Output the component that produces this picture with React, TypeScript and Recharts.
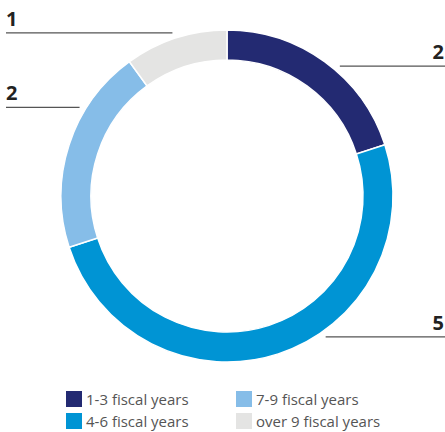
import React from 'react';
import { PieChart, Pie, Cell, Legend } from 'recharts';

const categories = ['1-3 fiscal years', '4-6 fiscal years', '7-9 fiscal years', 'over 9 fiscal years'];
const values = [2, 5, 2, 1];
const colors = ['#232A72', '#0094D4', '#86BDE8', '#E4E4E3'];
// leader-line angles (degrees, counter-clockwise from east) for each slice label
const leaderAngles = [49, -55, 149, 108.5];

const data = categories.map((name, i) => ({ name, value: values[i] }));

const W = 445;
const H = 432;
const RAD = Math.PI / 180;

const renderLabel = (props: any) => {
  const { cx, cy, outerRadius, index, value } = props;
  const a = leaderAngles[index];
  const r = outerRadius + 6;
  const x = cx + r * Math.cos(-a * RAD);
  const y = cy + r * Math.sin(-a * RAD);
  const right = Math.cos(-a * RAD) > 0;
  const x1 = right ? x : 6;
  const x2 = right ? W : x;
  return (
    <g key={`lbl-${index}`}>
      <line x1={x1} y1={y} x2={x2} y2={y} stroke="#555" strokeWidth={1.3} />
      <text
        x={right ? W - 1 : 6}
        y={y - 7}
        textAnchor={right ? 'end' : 'start'}
        fontFamily="'Open Sans', sans-serif"
        fontWeight={700}
        fontSize={20}
        fill="#222"
      >
        {value}
      </text>
    </g>
  );
};

const renderLegend = (props: any) => {
  const { payload } = props;
  return (
    <div
      style={{
        display: 'grid',
        gridTemplateRows: 'repeat(2, 22px)',
        gridAutoFlow: 'column',
        gridTemplateColumns: '170px 190px',
        fontFamily: "'Open Sans', sans-serif",
        fontSize: 15,
        color: '#555',
      }}
    >
      {payload.map((p: any, i: number) => (
        <div key={i} style={{ display: 'flex', alignItems: 'center', height: 22 }}>
          <span style={{ width: 16, height: 16, background: p.color, display: 'inline-block', marginRight: 4 }} />
          <span style={{ lineHeight: '16px' }}>{p.value}</span>
        </div>
      ))}
    </div>
  );
};

export default function App() {
  return (
    <div style={{ position: 'absolute', left: 0, top: 0, width: W, height: H, background: '#fff' }}>
      <PieChart width={W} height={H} margin={{ top: 0, right: 0, bottom: 0, left: 0 }}>
        <Pie
          data={data}
          dataKey="value"
          nameKey="name"
          cx={227}
          cy={196}
          innerRadius={136}
          outerRadius={166}
          startAngle={90}
          endAngle={-270}
          stroke="#fff"
          strokeWidth={1.5}
          label={renderLabel}
          labelLine={false}
          isAnimationActive={false}
        >
          {data.map((d, i) => (
            <Cell key={d.name} fill={colors[i]} />
          ))}
        </Pie>
        <Legend
          content={renderLegend}
          wrapperStyle={{ position: 'absolute', left: 66, top: 388, width: 370, bottom: 'auto' }}
        />
      </PieChart>
    </div>
  );
}
